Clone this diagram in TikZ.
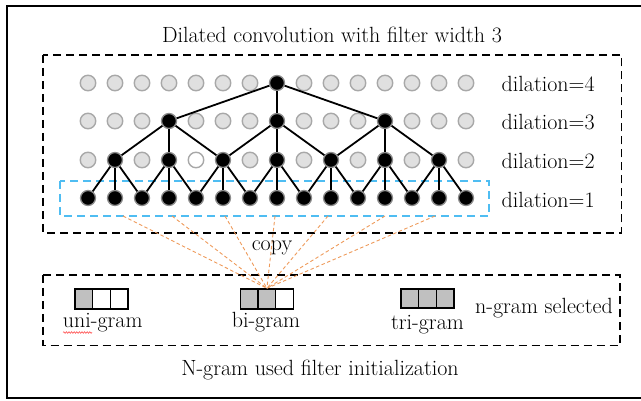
\documentclass[tikz,border=0pt]{standalone}
\usepackage{fontspec}
\usetikzlibrary{decorations.pathmorphing}

\definecolor{nodegray}{HTML}{E0E0E0}
\definecolor{ringgray}{HTML}{A8A8A8}
\definecolor{halogray}{HTML}{8C8C8C}
\definecolor{cellgray}{HTML}{C0C0C0}
\definecolor{copyorange}{HTML}{EE9A5A}
\definecolor{selblue}{HTML}{4FBDF2}

\begin{document}
\begin{tikzpicture}[x=1pt, y=-1pt,
  font=\rmfamily\fontsize{22}{26}\selectfont,
  idle/.style={circle, inner sep=0pt, minimum size=15.5pt, fill=nodegray, draw=ringgray, line width=1.4pt},
  blank/.style={idle, fill=white},
  active/.style={circle, inner sep=0pt, minimum size=15pt, fill=black, draw=halogray, line width=1.3pt},
  edge/.style={line width=1.8pt, black},
  group/.style={dash pattern=on 8pt off 5pt, line width=1.8pt},
  selbox/.style={draw=selblue, dash pattern=on 8pt off 5pt, line width=1.6pt},
  copyline/.style={draw=copyorange, dash pattern=on 3.5pt off 2.5pt, line width=0.9pt},
  cell/.style={draw, line width=1.4pt, minimum width=17.6pt, minimum height=20pt, inner sep=0pt},
  txt/.style={inner sep=0pt}]

\useasboundingbox (0,0) rectangle (641,401);
\clip (0,0) rectangle (641,401);

% outer frame
\draw[line width=2.2pt] (7,6) rectangle (660,398);

% title and group boxes
\node[txt, anchor=base] (title) at (332,43) {Dilated convolution with filter width 3};
\draw[group] (43,55) rectangle (621.5,233);
\draw[group] (43,275) rectangle (620,345.5);
\draw[selbox] (60,181) rectangle (489,216);

% dilation layers
\foreach \c in {0,...,14}
  \node[active] (n1-\c) at ({88+27*\c},198) {};
\foreach \c in {1,3,...,13}
  \node[active] (n2-\c) at ({88+27*\c},160) {};
\foreach \c in {0,2,6,8,10,12,14}
  \node[idle] (n2-\c) at ({88+27*\c},160) {};
\node[blank] (n2-4) at (196,160) {};
\foreach \c in {3,7,11}
  \node[active] (n3-\c) at ({88+27*\c},121) {};
\foreach \c in {0,1,2,4,5,6,8,9,10,12,13,14}
  \node[idle] (n3-\c) at ({88+27*\c},121) {};
\node[active] (n4-7) at (277,83) {};
\foreach \c in {0,1,2,3,4,5,6,8,9,10,11,12,13,14}
  \node[idle] (n4-\c) at ({88+27*\c},83) {};

% filter connections
\foreach \c in {1,3,...,13} {
  \pgfmathtruncatemacro\a{\c-1}
  \pgfmathtruncatemacro\b{\c+1}
  \draw[edge] (n2-\c) -- (n1-\a);
  \draw[edge] (n2-\c) -- (n1-\c);
  \draw[edge] (n2-\c) -- (n1-\b);
}
\foreach \c in {3,7,11} {
  \pgfmathtruncatemacro\a{\c-2}
  \pgfmathtruncatemacro\b{\c+2}
  \draw[edge] (n3-\c) -- (n2-\a);
  \draw[edge] (n3-\c) -- (n2-\c);
  \draw[edge] (n3-\c) -- (n2-\b);
}
\draw[edge] (n4-7) -- (n3-3);
\draw[edge] (n4-7) -- (n3-7);
\draw[edge] (n4-7) -- (n3-11);

% layer labels
\node[txt, anchor=base west] (d4) at (501.5,92) {dilation=4};
\node[txt, anchor=base west] (d3) at (501.5,130) {dilation=3};
\node[txt, anchor=base west] (d2) at (501.5,169) {dilation=2};
\node[txt, anchor=base west] (d1) at (501.5,208) {dilation=1};

% n-gram filters
\node[cell, fill=cellgray] (u1) at (83.8,299) {};
\node[cell, fill=white]    (u2) at (101.4,299) {};
\node[cell, fill=white]    (u3) at (119,299) {};
\node[cell, fill=cellgray] (b1) at (249.3,299) {};
\node[cell, fill=cellgray] (b2) at (266.9,299) {};
\node[cell, fill=white]    (b3) at (284.5,299) {};
\node[cell, fill=cellgray, minimum height=19pt] (t1) at (409.8,298.5) {};
\node[cell, fill=cellgray, minimum height=19pt] (t2) at (427.4,298.5) {};
\node[cell, fill=cellgray, minimum height=19pt] (t3) at (445,298.5) {};

\node[txt, anchor=base] (uni) at (102.7,328) {uni-gram};
\node[txt, anchor=base] (bi) at (266,328) {bi-gram};
\node[txt, anchor=base] (tri) at (427.5,330) {tri-gram};
\node[txt, anchor=base] (sel) at (544,313) {n-gram selected};
\draw[red!70, line width=0.6pt, decorate,
      decoration={snake, amplitude=0.8pt, segment length=2.6pt}]
  (63,332.5) -- (92,332.5);

% copy lines
\foreach \i/\x in {1/123,2/172,3/225,4/275,5/328,6/385,7/435}
  \coordinate (s\i) at (\x,216);
\foreach \i in {1,...,7}
  \draw[copyline] (s\i) -- (b2.north);
\node[txt, anchor=base] (copy) at (272,251) {copy};

\node[txt, anchor=base] (caption) at (320,375) {N-gram used filter initialization};
\end{tikzpicture}
\end{document}
